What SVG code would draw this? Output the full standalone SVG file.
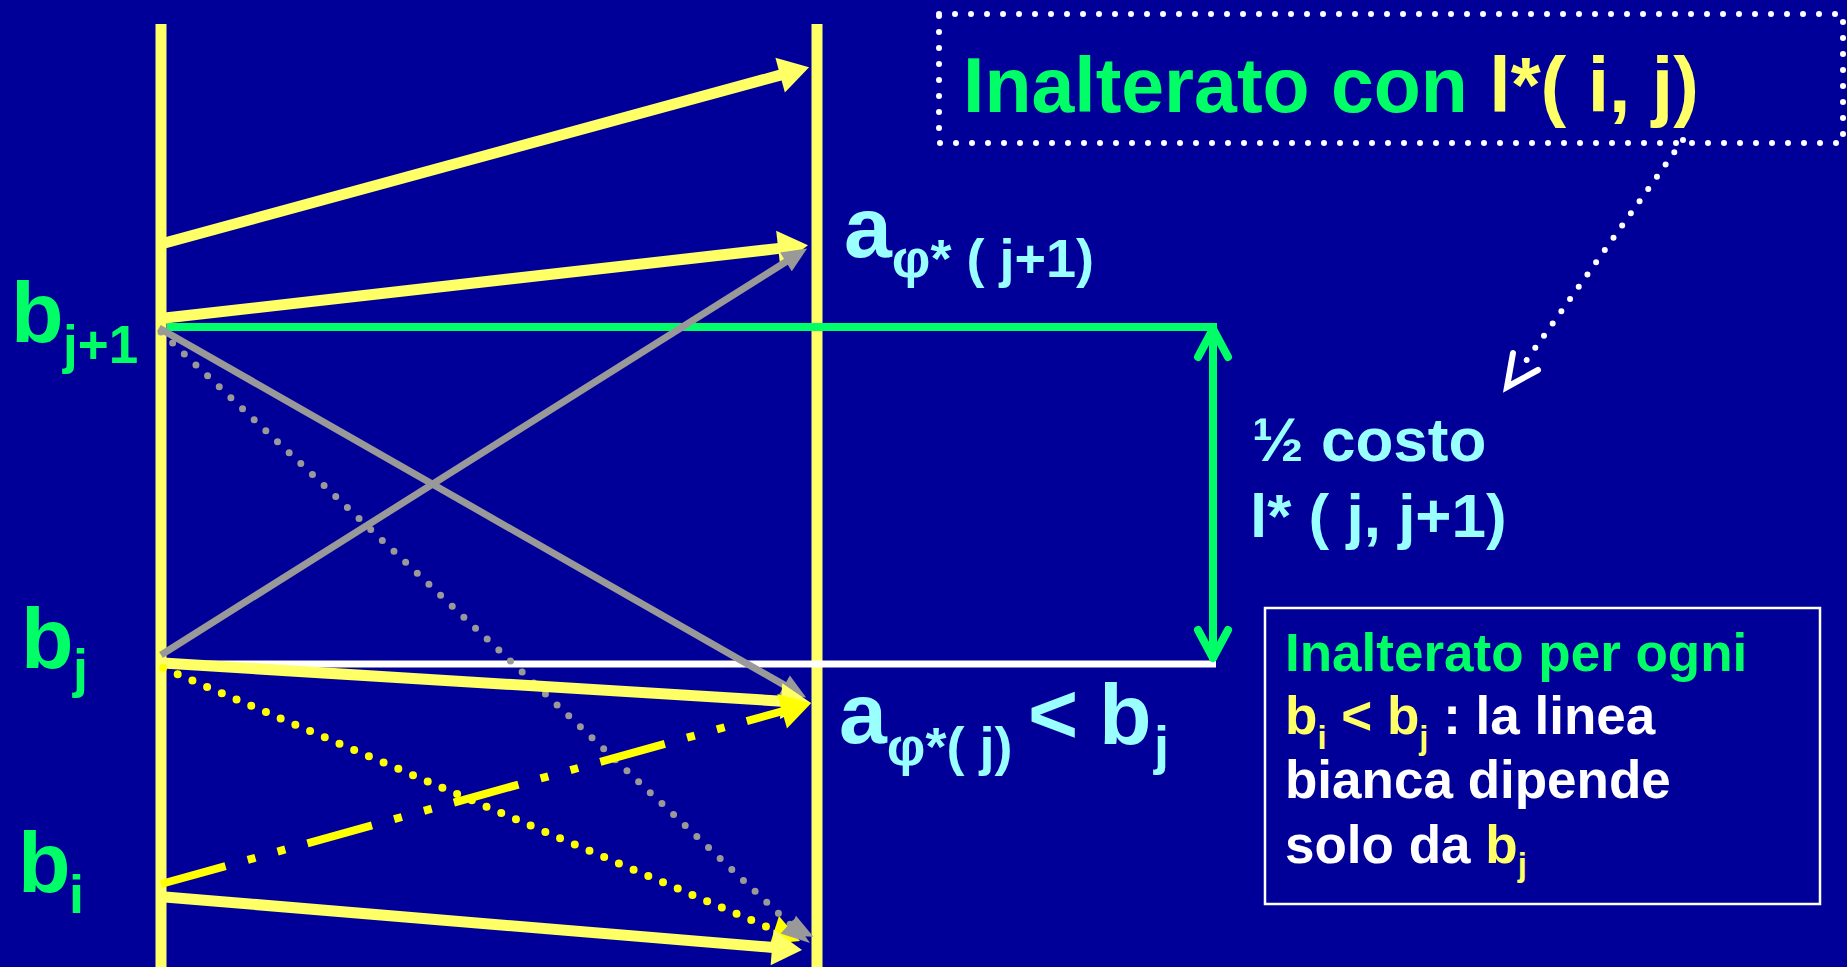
<svg xmlns="http://www.w3.org/2000/svg" width="1847" height="967" viewBox="0 0 1847 967">
<style>
text{font-family:"Liberation Sans",Arial,sans-serif;font-weight:bold}
.g{fill:#00ff66}.y{fill:#ffff66}.c{fill:#99ffff}.w{fill:#ffffff}
.ly{stroke:#ffff66;stroke-width:11;fill:none}
.lg{stroke:#999999;stroke-width:7;fill:none}
.dotg{stroke:#999999;stroke-width:7;fill:none;stroke-dasharray:0 16;stroke-linecap:round}
.doty{stroke:#ffff00;stroke-width:8;fill:none;stroke-dasharray:0 16;stroke-linecap:round}
.dashy{stroke:#ffff00;stroke-width:8;fill:none;stroke-dasharray:67 23 8 23 8 23}
.dotw{stroke:#ffffff;stroke-width:6;fill:none;stroke-dasharray:0 15;stroke-linecap:round}
</style>
<defs>
<marker id="ay" markerUnits="userSpaceOnUse" markerWidth="32" markerHeight="36" refX="1" refY="18" orient="auto" overflow="visible"><path d="M0,0 L30,18 L0,36 z" fill="#ffff66"/></marker>
<marker id="ay2" markerUnits="userSpaceOnUse" markerWidth="32" markerHeight="36" refX="1" refY="18" orient="auto" overflow="visible"><path d="M0,0 L30,18 L0,36 z" fill="#ffff00"/></marker>
<marker id="ag" markerUnits="userSpaceOnUse" markerWidth="26" markerHeight="22" refX="1" refY="11" orient="auto" overflow="visible"><path d="M0,0 L25,11 L0,22 z" fill="#999999"/></marker>
</defs>
<rect width="1847" height="967" fill="#000099"/>
<g id="connectors">
<line x1="161" y1="24" x2="161" y2="967" stroke="#ffff66" stroke-width="11"/>
<line x1="817" y1="24" x2="817" y2="967" stroke="#ffff66" stroke-width="11"/>
<line x1="166" y1="664" x2="1216" y2="664" stroke="#ffffff" stroke-width="7"/>
<polyline points="167,327 1213,327 1213,660" fill="none" stroke="#00ff66" stroke-width="8"/>
<polyline points="1198,357 1213,329 1228,357" fill="none" stroke="#00ff66" stroke-width="8" stroke-linecap="round" stroke-linejoin="round"/>
<polyline points="1198,630 1213,658 1228,630" fill="none" stroke="#00ff66" stroke-width="8" stroke-linecap="round" stroke-linejoin="round"/>
<line class="ly" x1="161" y1="244" x2="781.1" y2="74.9" marker-end="url(#ay)"/>
<line class="ly" x1="165" y1="318" x2="779.2" y2="248.4" marker-end="url(#ay)"/>
<line class="lg" x1="159" y1="328" x2="785.3" y2="685.6" marker-end="url(#ag)"/>
<line class="lg" x1="161" y1="655" x2="786.8" y2="261.3" marker-end="url(#ag)"/>
<line class="dotg" x1="161" y1="332" x2="791.8" y2="925.9"/>
<path d="M791.8,925.9 L792,926" fill="none" stroke="none" marker-end="url(#ag)"/>
<line class="ly" x1="163" y1="663" x2="782.1" y2="701.2" marker-end="url(#ay)"/>
<line class="doty" x1="163" y1="668" x2="774.3" y2="930"/>
<polygon points="800,941 770,944 779,916" fill="#ffff00"/>
<line class="dashy" x1="161" y1="884" x2="783.1" y2="711" marker-end="url(#ay2)"/>
<line class="ly" x1="165" y1="897" x2="773.1" y2="947.5" marker-end="url(#ay)"/>
<polygon points="810,943 780.6,933.6 793.5,919.5" fill="#999999"/>
<line class="dotw" x1="1683" y1="140" x2="1521" y2="368"/>
<polyline points="1513,353 1507,387 1538,370" fill="none" stroke="#ffffff" stroke-width="6" stroke-linecap="round" stroke-linejoin="miter"/>
</g>
<g id="label-bj1"><text x="11" y="342" font-size="86" class="g">b<tspan x="63" y="363" font-size="53">j+1</tspan></text></g>
<g id="label-bj"><text x="21" y="668" font-size="86" class="g">b<tspan x="73" y="687" font-size="54">j</tspan></text></g>
<g id="label-bi"><text x="18" y="892" font-size="86" class="g">b<tspan x="69" y="913" font-size="54">i</tspan></text></g>
<g id="label-aj1"><text x="844" y="257" font-size="86" class="c">a<tspan y="277" font-size="54">φ* ( j+1)</tspan></text></g>
<g id="label-aj"><text x="839" y="743" font-size="86" class="c">a<tspan y="765" font-size="54">φ*( j)</tspan><tspan x="1028" y="743">&lt;</tspan><tspan x="1099" y="744">b</tspan><tspan x="1154" y="764" font-size="54">j</tspan></text></g>
<g id="label-costo">
<text x="1252" y="461" font-size="62" class="c">½ costo</text>
<text x="1250" y="537" font-size="62" class="c">l* ( j, j+1)</text>
</g>
<g id="title-box">
<rect x="939" y="14" width="904" height="129" fill="none" stroke="#ffffff" stroke-width="6" stroke-dasharray="0 16" stroke-linecap="round"/>
<text x="963" y="112" font-size="77" class="g">Inalterato con <tspan class="y">l*( i, j)</tspan></text>
</g>
<g id="note-box">
<rect x="1265" y="608" width="555" height="296" fill="none" stroke="#ffffff" stroke-width="2.5"/>
<text x="1285" y="671" font-size="53" class="g">Inalterato per ogni</text>
<text x="1285" y="734" font-size="53" class="w"><tspan class="y">b</tspan><tspan class="y" dy="15" font-size="33">i</tspan><tspan class="y" dy="-15"> &lt; b</tspan><tspan class="y" dy="15" font-size="33">j</tspan><tspan dy="-15"> : la linea</tspan></text>
<text x="1285" y="798" font-size="53" class="w">bianca dipende</text>
<text x="1285" y="863" font-size="53" class="w">solo da <tspan class="y">b</tspan><tspan class="y" dy="13" font-size="33">j</tspan></text>
</g>
</svg>
